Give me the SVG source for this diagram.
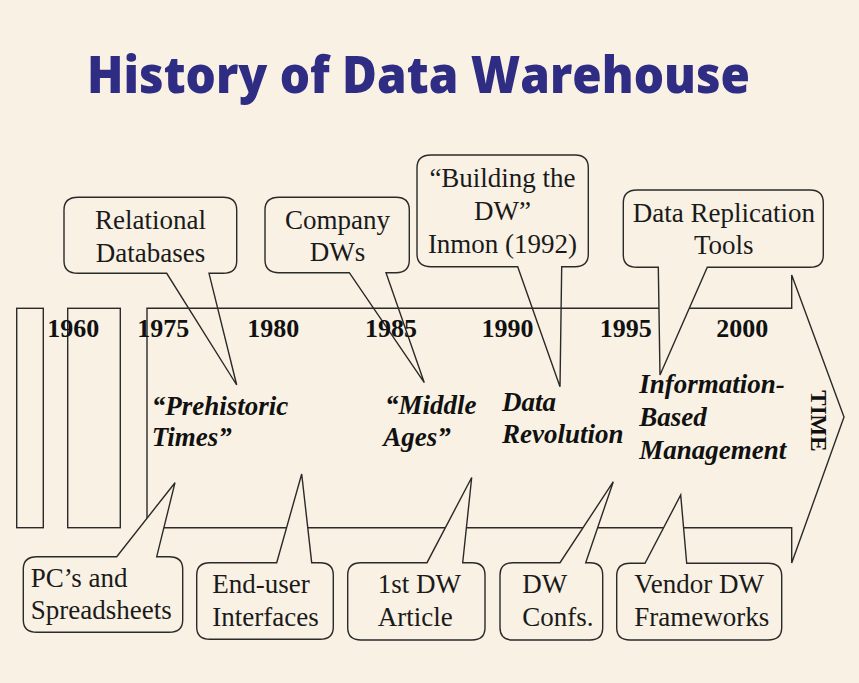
<svg xmlns="http://www.w3.org/2000/svg" width="859" height="683" viewBox="0 0 859 683">
<defs>
<style>
.bg{fill:#f9f1e3}
.co{fill:#f9f1e3;stroke:#2a2a2a;stroke-width:1.4;stroke-linejoin:miter}
.ln{fill:none;stroke:#2a2a2a;stroke-width:1.4}
.t{font-family:"Liberation Serif","Times New Roman",serif;font-size:27px;fill:#1a1a1a}
.c{text-anchor:middle}
.yr{font-family:"Liberation Serif","Times New Roman",serif;font-size:26px;font-weight:bold;fill:#111;text-anchor:middle}
.era{font-family:"Liberation Serif","Times New Roman",serif;font-size:27px;font-weight:bold;font-style:italic;fill:#111}
.title{font-family:"Open Sans","DejaVu Sans",sans-serif;font-size:52px;font-weight:800;fill:#2f2c84}
</style>
</defs>
<rect class="bg" x="0" y="0" width="859" height="683"/>
<text class="title" x="87" y="93" textLength="663" lengthAdjust="spacingAndGlyphs">History of Data Warehouse</text>

<!-- callouts drawn behind timeline -->
<g id="relational">
<path class="co" d="M78,197.3 H223 Q236.7,197.3 236.7,210 V261 Q236.7,273.3 223,273.3 H209 L236.7,385 L166.7,273.3 H78 Q64,273.3 64,261 V210 Q64,197.3 78,197.3 Z"/>
<text class="t c" x="150.5" y="229">Relational</text>
<text class="t c" x="150.5" y="261.7">Databases</text>
</g>
<g id="company">
<path class="co" d="M279,197.3 H396 Q409.3,197.3 409.3,210 V260 Q409.3,272.7 396,272.7 H386 L424.3,382.7 L349.3,272.7 H279 Q265,272.7 265,260 V210 Q265,197.3 279,197.3 Z"/>
<text class="t c" x="337.5" y="229.3">Company</text>
<text class="t c" x="337.5" y="261">DWs</text>
</g>
<g id="building">
<path class="co" d="M431,155 H575 Q588.3,155 588.3,168 V254 Q588.3,266.7 575,266.7 H561.7 L560,386.7 L517.7,266.7 H431 Q417,266.7 417,254 V168 Q417,155 431,155 Z"/>
<text class="t c" x="502.5" y="186.7">“Building the</text>
<text class="t c" x="502.5" y="220">DW”</text>
<text class="t c" x="502.5" y="253.3">Inmon (1992)</text>
</g>

<!-- timeline -->
<g id="timeline">
<path class="ln" d="M147,308.3 H791.7 V275 L844,417 L791.7,563 V527.7 H147 Z"/>
<rect class="ln" x="16.7" y="308.3" width="26.6" height="219.4"/>
<rect class="ln" x="67.7" y="308.3" width="52.6" height="219.4"/>
</g>

<g id="replication">
<path class="co" d="M637,190 H810 Q823.3,190 823.3,203 V255 Q823.3,267.3 810,267.3 H707.3 L660,375 L658.3,267.3 H637 Q623.3,267.3 623.3,255 V203 Q623.3,190 637,190 Z"/>
<text class="t c" x="723.8" y="221.7">Data Replication</text>
<text class="t c" x="723.8" y="254">Tools</text>
</g>

<g id="pcs">
<path class="co" d="M37,556.7 H116.7 L175,482.7 L156.7,556.7 H169 Q182.7,556.7 182.7,569 V620 Q182.7,632.3 169,632.3 H37 Q23.3,632.3 23.3,620 V569 Q23.3,556.7 37,556.7 Z"/>
<text class="t" x="30.7" y="586.7">PC’s and</text>
<text class="t" x="30.7" y="619.3">Spreadsheets</text>
</g>
<g id="enduser">
<path class="co" d="M210,562.7 H276.7 L301.7,474 L311.7,562.7 H320 Q333.3,562.7 333.3,575 V627 Q333.3,639.3 320,639.3 H210 Q196.7,639.3 196.7,627 V575 Q196.7,562.7 210,562.7 Z"/>
<text class="t" x="212.3" y="593.3">End-user</text>
<text class="t" x="212.3" y="626">Interfaces</text>
</g>
<g id="firstdw">
<path class="co" d="M361,562.7 H427 L471.7,477.5 L462.7,562.7 H472 Q485,562.7 485,575 V627.5 Q485,640 472,640 H361 Q347.7,640 347.7,627.5 V575 Q347.7,562.7 361,562.7 Z"/>
<text class="t" x="377.7" y="593">1st DW</text>
<text class="t" x="377.7" y="626">Article</text>
</g>
<g id="dwconfs">
<path class="co" d="M513,562.7 H560 L613.3,481.7 L585.7,562.7 H590 Q602.7,562.7 602.7,575 V627.5 Q602.7,640 590,640 H513 Q500,640 500,627.5 V575 Q500,562.7 513,562.7 Z"/>
<text class="t" x="522.3" y="592.7">DW</text>
<text class="t" x="522.3" y="626">Confs.</text>
</g>
<g id="vendor">
<path class="co" d="M630,563.3 H645 L680.7,495 L686.7,563.3 H768 Q781.7,563.3 781.7,576 V627.5 Q781.7,640 768,640 H630 Q616.7,640 616.7,627.5 V576 Q616.7,563.3 630,563.3 Z"/>
<text class="t" x="634.3" y="592.7">Vendor DW</text>
<text class="t" x="634.3" y="626">Frameworks</text>
</g>

<!-- year labels -->
<g id="years">
<text class="yr" x="73.3" y="337.3">1960</text>
<text class="yr" x="163.3" y="337.3">1975</text>
<text class="yr" x="273.3" y="337.3">1980</text>
<text class="yr" x="391" y="337.3">1985</text>
<text class="yr" x="507.5" y="337.3">1990</text>
<text class="yr" x="625.8" y="337.3">1995</text>
<text class="yr" x="742.2" y="337.3">2000</text>
</g>

<!-- era labels -->
<g id="eras">
<text class="era" x="151.7" y="415">“Prehistoric</text>
<text class="era" x="151.7" y="446">Times”</text>
<text class="era" x="385" y="414">“Middle</text>
<text class="era" x="383.3" y="446">Ages”</text>
<text class="era" x="502" y="411">Data</text>
<text class="era" x="502" y="443.3">Revolution</text>
<text class="era" x="639.3" y="393.3">Information-</text>
<text class="era" x="639.3" y="426">Based</text>
<text class="era" x="639.3" y="459.3">Management</text>
<text x="0" y="0" transform="translate(811,421) rotate(90)" style="font-family:'Liberation Serif','Times New Roman',serif;font-size:23px;font-weight:bold;fill:#111;text-anchor:middle">TIME</text>
</g>
</svg>
